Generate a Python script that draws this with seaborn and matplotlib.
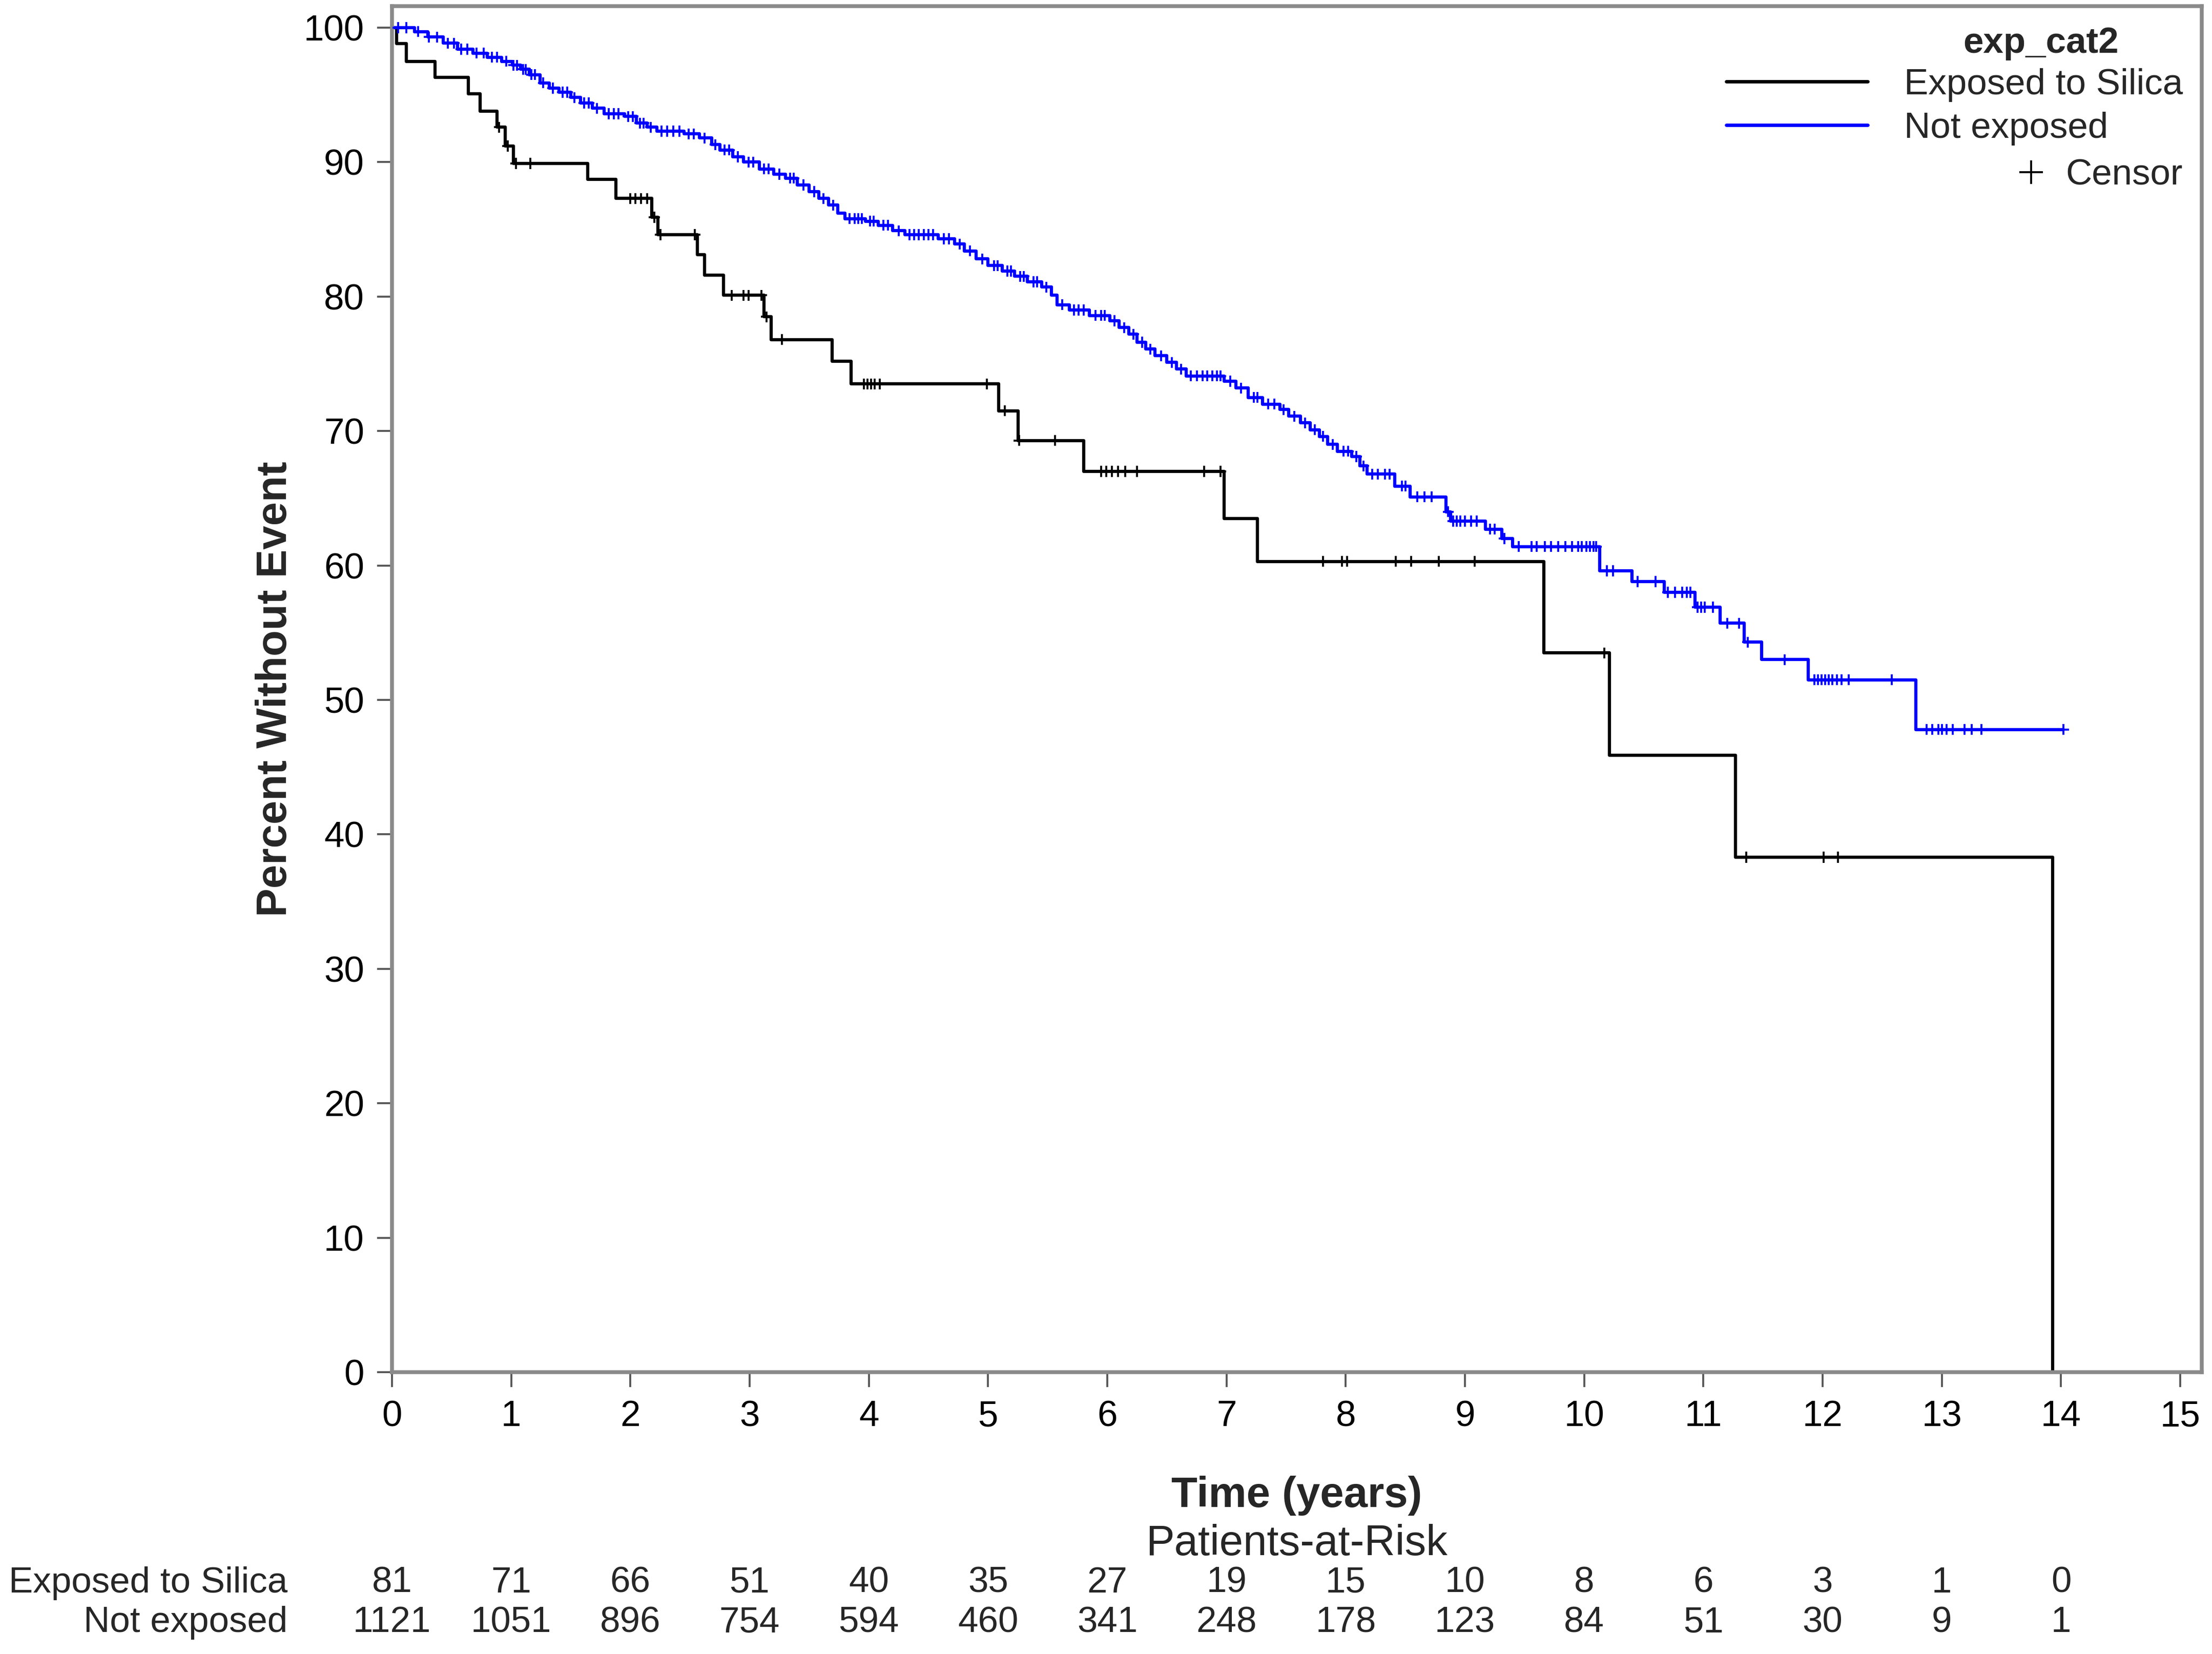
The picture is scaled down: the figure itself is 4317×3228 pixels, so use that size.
import numpy as np
import pandas as pd
import matplotlib
matplotlib.use("Agg")
import matplotlib.pyplot as plt
import matplotlib.transforms as mtransforms
from matplotlib.lines import Line2D
import seaborn as sns

# ---------------- data ----------------
group_labels = ["Exposed to Silica", "Not exposed"]
group_colors = ["#000000", "#0000FF"]
legend_title = "exp_cat2"

# Kaplan-Meier step curve: Exposed to Silica (time in years, % without event)
silica_time = [0, 0.04, 0.12, 0.36, 0.64, 0.74, 0.88, 0.95, 1.02, 1.64, 1.88, 2.18,
               2.23, 2.56, 2.62, 2.78, 3.12, 3.18, 3.69, 3.85, 5.09, 5.25, 5.80,
               6.98, 7.26, 9.66, 10.21, 11.27, 13.93]
silica_surv = [100, 98.8, 97.5, 96.3, 95.1, 93.8, 92.6, 91.2, 89.9, 88.7, 87.3, 85.9,
               84.6, 83.1, 81.6, 80.1, 78.5, 76.8, 75.2, 73.5, 71.5, 69.3, 67.0,
               63.5, 60.3, 53.5, 45.9, 38.3, 0]
silica_censor = [0.90, 0.97, 1.04, 1.16, 2.00, 2.04, 2.09, 2.14, 2.20, 2.25, 2.54,
                 2.85, 2.95, 2.99, 3.10, 3.14, 3.27, 3.96, 3.99, 4.02, 4.05, 4.09,
                 4.99, 5.14, 5.26, 5.56, 5.95, 5.99, 6.04, 6.09, 6.15, 6.25, 6.81,
                 6.95, 7.81, 7.97, 8.01, 8.42, 8.55, 8.78, 9.08, 10.17, 11.36,
                 12.01, 12.13]

# Kaplan-Meier step curve: Not exposed
notexp_time = [0, 0.19, 0.30, 0.43, 0.55, 0.68, 0.80, 0.92, 1.01, 1.08, 1.15, 1.24,
               1.32, 1.40, 1.50, 1.58, 1.68, 1.78, 1.95, 2.05, 2.14, 2.22, 2.45,
               2.58, 2.68, 2.75, 2.86, 2.95, 3.08, 3.20, 3.30, 3.40, 3.50, 3.58,
               3.66, 3.74, 3.80, 3.97, 4.08, 4.20, 4.30, 4.58, 4.72, 4.80, 4.90,
               5.00, 5.12, 5.22, 5.33, 5.45, 5.53, 5.58, 5.68, 5.85, 6.02, 6.10,
               6.18, 6.25, 6.32, 6.40, 6.50, 6.58, 6.66, 6.98, 7.08, 7.18, 7.30,
               7.45, 7.52, 7.62, 7.70, 7.78, 7.85, 7.93, 8.05, 8.12, 8.18, 8.41,
               8.54, 8.84, 8.88, 9.17, 9.31, 9.40, 10.13, 10.40, 10.67, 10.93,
               11.14, 11.34, 11.49, 11.88, 12.78, 14.02]
notexp_surv = [100, 99.7, 99.3, 98.85, 98.4, 98.1, 97.8, 97.5, 97.2, 96.9, 96.5, 95.9,
               95.5, 95.2, 94.8, 94.4, 94.0, 93.6, 93.4, 92.9, 92.6, 92.3, 92.1,
               91.8, 91.3, 90.9, 90.4, 90.0, 89.5, 89.1, 88.8, 88.3, 87.8, 87.3,
               86.8, 86.2, 85.8, 85.6, 85.3, 84.9, 84.6, 84.3, 83.9, 83.4, 82.8,
               82.3, 81.9, 81.5, 81.1, 80.7, 80.1, 79.4, 79.0, 78.6, 78.2, 77.7,
               77.2, 76.6, 76.1, 75.6, 75.1, 74.6, 74.1, 73.7, 73.2, 72.5, 72.0,
               71.6, 71.1, 70.6, 70.1, 69.6, 69.0, 68.5, 68.1, 67.4, 66.8, 65.9,
               65.1, 64.0, 63.3, 62.7, 62.0, 61.4, 59.6, 58.8, 58.0, 56.9,
               55.7, 54.3, 53.0, 51.5, 47.8, 47.8]
notexp_censor = [0.05, 0.12, 0.22, 0.31, 0.38, 0.47, 0.52, 0.58, 0.63, 0.71, 0.77, 0.84,
                 0.88, 0.96, 1.02, 1.05, 1.10, 1.12, 1.17, 1.20, 1.27, 1.35, 1.43, 1.47,
                 1.53, 1.61, 1.65, 1.72, 1.82, 1.86, 1.90, 1.98, 2.02, 2.08, 2.11, 2.17,
                 2.26, 2.31, 2.36, 2.41, 2.49, 2.53, 2.62, 2.71, 2.79, 2.83, 2.90, 2.99,
                 3.03, 3.12, 3.16, 3.25, 3.34, 3.37, 3.45, 3.54, 3.62, 3.70, 3.84, 3.88,
                 3.91, 3.94, 4.01, 4.04, 4.12, 4.16, 4.25, 4.34, 4.38, 4.42, 4.46, 4.50,
                 4.54, 4.63, 4.67, 4.76, 4.85, 4.95, 5.05, 5.08, 5.16, 5.19, 5.27, 5.30,
                 5.38, 5.41, 5.49, 5.62, 5.72, 5.76, 5.80, 5.90, 5.95, 5.98, 6.06, 6.14,
                 6.22, 6.29, 6.36, 6.45, 6.54, 6.62, 6.70, 6.75, 6.80, 6.84, 6.88, 6.92,
                 6.95, 7.03, 7.12, 7.23, 7.26, 7.35, 7.40, 7.48, 7.57, 7.66, 7.74, 7.81,
                 7.89, 7.98, 8.02, 8.09, 8.15, 8.22, 8.27, 8.33, 8.37, 8.47, 8.50, 8.60,
                 8.66, 8.72, 8.86, 8.90, 8.93, 8.96, 9.00, 9.05, 9.10, 9.21, 9.25, 9.33,
                 9.45, 9.56, 9.60, 9.67, 9.72, 9.78, 9.84, 9.90, 9.95, 9.98, 10.02, 10.05,
                 10.08, 10.10, 10.19, 10.24, 10.45, 10.60, 10.70, 10.76, 10.82, 10.86,
                 10.89, 10.95, 10.98, 11.01, 11.08, 11.20, 11.30, 11.37, 11.68, 11.93,
                 11.96, 11.99, 12.02, 12.05, 12.08, 12.12, 12.16, 12.22, 12.58, 12.87,
                 12.92, 12.97, 13.00, 13.04, 13.09, 13.19, 13.25, 13.33, 14.02]

# Patients-at-risk table
risk_times = list(range(0, 15))
risk_silica = [81, 71, 66, 51, 40, 35, 27, 19, 15, 10, 8, 6, 3, 1, 0]
risk_notexp = [1121, 1051, 896, 754, 594, 460, 341, 248, 178, 123, 84, 51, 30, 9, 1]

x_ticks = list(range(0, 16))
y_ticks = list(range(0, 101, 10))

# ---------------- frames ----------------
curve_df = pd.concat([
    pd.DataFrame({"time": silica_time, "surv": silica_surv, "group": group_labels[0]}),
    pd.DataFrame({"time": notexp_time, "surv": notexp_surv, "group": group_labels[1]}),
], ignore_index=True)


def censor_levels(times, surv, ctimes):
    idx = np.searchsorted(np.asarray(times), np.asarray(ctimes), side="right") - 1
    return np.asarray(surv)[idx]


censor_df = pd.concat([
    pd.DataFrame({"time": silica_censor,
                  "surv": censor_levels(silica_time, silica_surv, silica_censor),
                  "group": group_labels[0]}),
    pd.DataFrame({"time": notexp_censor,
                  "surv": censor_levels(notexp_time, notexp_surv, notexp_censor),
                  "group": group_labels[1]}),
], ignore_index=True)

palette = dict(zip(group_labels, group_colors))

# ---------------- style ----------------
sns.set_theme(style="ticks")
plt.rcParams["font.family"] = ["Liberation Sans", "DejaVu Sans"]

W, H, DPI = 4317, 3228, 300
fig = plt.figure(figsize=(W / DPI, H / DPI), dpi=DPI)
ax_l, ax_r, ax_t, ax_b = 765 / W, 4297 / W, 1 - 12 / H, 1 - 2678 / H
ax = fig.add_axes([ax_l, ax_b, ax_r - ax_l, ax_t - ax_b])

sns.lineplot(data=curve_df, x="time", y="surv", hue="group", palette=palette,
             estimator=None, sort=False, drawstyle="steps-post", linewidth=1.5,
             legend=False, ax=ax)
sns.scatterplot(data=censor_df, x="time", y="surv", hue="group", palette=palette,
                marker="+", s=26, linewidth=0.9, legend=False, ax=ax, zorder=3)

ax.set_xlim(0, 15.18)
ax.set_ylim(0, 101.6)
ax.set_xticks(x_ticks)
ax.set_yticks(y_ticks)
ax.tick_params(axis="both", direction="out", length=7, width=0.9, color="#555555",
               labelsize=17, pad=6, labelcolor="black")
for sp in ax.spines.values():
    sp.set_color("#8a8a8a")
    sp.set_linewidth(1.8)

ax.set_xlabel("Time (years)", fontsize=20, fontweight="bold")
ax.xaxis.label.set_va("baseline")
ax.xaxis.set_label_coords(0.5, (2678 - 2941) / (2678 - 12))
ax.set_ylabel("Percent Without Event", fontsize=20, fontweight="bold")
ax.yaxis.label.set_va("baseline")
ax.yaxis.set_label_coords((559 - 765) / (4297 - 765), 0.5)

# legend
handles = [Line2D([], [], color=c, linewidth=1.6) for c in group_colors]
leg1 = ax.legend(handles, group_labels, loc="center right",
                 bbox_to_anchor=(0.9895, 0.9264), frameon=False, fontsize=17,
                 handlelength=3.9, handletextpad=1.0, labelspacing=0.27,
                 borderpad=0, borderaxespad=0)
ax.add_artist(leg1)
cens_handle = Line2D([], [], color="black", marker="+", linestyle="None",
                     markersize=11, markeredgewidth=0.9)
ax.legend([cens_handle], ["Censor"], loc="center right",
          bbox_to_anchor=(0.9895, 0.876), frameon=False, fontsize=17,
          handlelength=0.8, handletextpad=0.55, borderpad=0, borderaxespad=0)
ax.text(0.911, 0.9725, legend_title, transform=ax.transAxes, ha="center",
        va="center", fontsize=17, fontweight="bold")

# patients at risk
trans = mtransforms.blended_transform_factory(ax.transData, fig.transFigure)
row_y = [1 - 3108 / H, 1 - 3185 / H]
for counts, yy in zip([risk_silica, risk_notexp], row_y):
    for t, n in zip(risk_times, counts):
        ax.text(t, yy, str(n), transform=trans, ha="center", va="baseline",
                fontsize=17, clip_on=False)
for lab, yy in zip(group_labels, row_y):
    fig.text(561 / W, yy, lab, ha="right", va="baseline", fontsize=17)
fig.text((ax_l + ax_r) / 2, 1 - 3035 / H, "Patients-at-Risk", ha="center",
         va="baseline", fontsize=20)

fig.savefig("out.png", dpi=DPI, facecolor="white")
